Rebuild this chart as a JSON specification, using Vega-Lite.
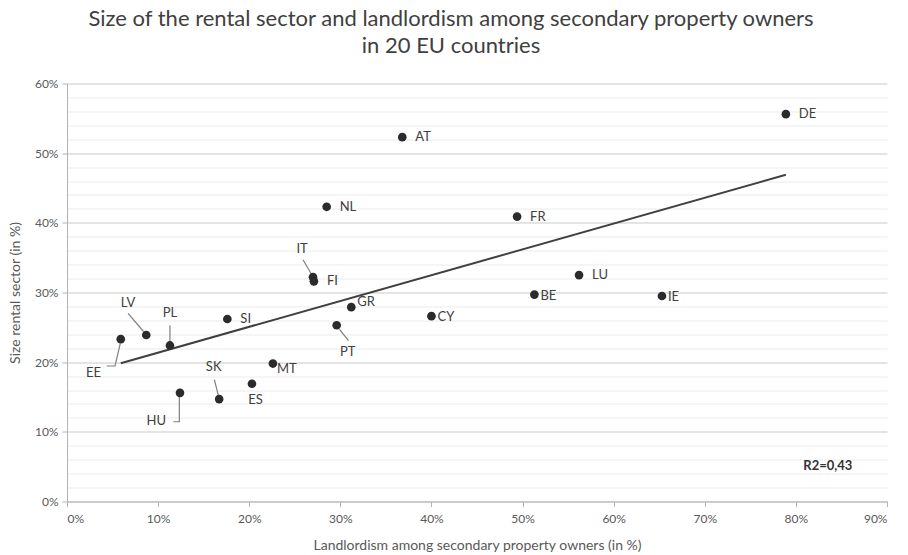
{
  "$schema": "https://vega.github.io/schema/vega-lite/v6.json",
  "autosize": "none",
  "width": 820,
  "height": 418,
  "padding": {"left": 67, "top": 83.5, "right": 21, "bottom": 53.5},
  "background": "white",
  "config": {"font": "Lato", "view": {"stroke": null}},
  "title": {
    "text": ["Size of the rental sector and landlordism among secondary property owners", "in 20 EU countries"],
    "fontSize": 22,
    "fontWeight": "normal",
    "color": "#404040",
    "anchor": "middle",
    "dx": -26,
    "offset": 20,
    "lineHeight": 27
  },
  "datasets": {
    "countries": [
      {"country": "DE", "landlordism": 0.789, "rental": 0.556, "side": "far"},
      {"country": "AT", "landlordism": 0.368, "rental": 0.523, "side": "far"},
      {"country": "NL", "landlordism": 0.285, "rental": 0.423, "side": "far"},
      {"country": "FR", "landlordism": 0.494, "rental": 0.409, "side": "far"},
      {"country": "LU", "landlordism": 0.562, "rental": 0.325, "side": "far"},
      {"country": "IT", "landlordism": 0.270, "rental": 0.322, "side": "callout"},
      {"country": "FI", "landlordism": 0.271, "rental": 0.316, "side": "far"},
      {"country": "BE", "landlordism": 0.513, "rental": 0.297, "side": "near"},
      {"country": "IE", "landlordism": 0.653, "rental": 0.295, "side": "near"},
      {"country": "GR", "landlordism": 0.312, "rental": 0.279, "side": "up"},
      {"country": "CY", "landlordism": 0.400, "rental": 0.266, "side": "near"},
      {"country": "SI", "landlordism": 0.176, "rental": 0.262, "side": "far"},
      {"country": "PT", "landlordism": 0.296, "rental": 0.253, "side": "callout"},
      {"country": "LV", "landlordism": 0.087, "rental": 0.239, "side": "callout"},
      {"country": "EE", "landlordism": 0.059, "rental": 0.233, "side": "callout"},
      {"country": "PL", "landlordism": 0.113, "rental": 0.224, "side": "callout"},
      {"country": "MT", "landlordism": 0.226, "rental": 0.198, "side": "down"},
      {"country": "ES", "landlordism": 0.203, "rental": 0.169, "side": "callout"},
      {"country": "HU", "landlordism": 0.124, "rental": 0.156, "side": "callout"},
      {"country": "SK", "landlordism": 0.167, "rental": 0.147, "side": "callout"}
    ],
    "calloutLabels": [
      {"country": "IT", "lx": 0.258, "ly": 0.363},
      {"country": "LV", "lx": 0.067, "ly": 0.285},
      {"country": "PL", "lx": 0.113, "ly": 0.271},
      {"country": "EE", "lx": 0.029, "ly": 0.184},
      {"country": "HU", "lx": 0.098, "ly": 0.115},
      {"country": "SK", "lx": 0.161, "ly": 0.193},
      {"country": "ES", "lx": 0.207, "ly": 0.145},
      {"country": "PT", "lx": 0.308, "ly": 0.214}
    ],
    "leaders": [
      {"country": "IT", "step": 1, "lx": 0.259, "ly": 0.347},
      {"country": "IT", "step": 2, "lx": 0.268, "ly": 0.327},
      {"country": "LV", "step": 1, "lx": 0.067, "ly": 0.270},
      {"country": "LV", "step": 2, "lx": 0.084, "ly": 0.244},
      {"country": "PL", "step": 1, "lx": 0.113, "ly": 0.253},
      {"country": "PL", "step": 2, "lx": 0.113, "ly": 0.229},
      {"country": "EE", "step": 1, "lx": 0.0585, "ly": 0.227},
      {"country": "EE", "step": 2, "lx": 0.0527, "ly": 0.1945},
      {"country": "EE", "step": 3, "lx": 0.0436, "ly": 0.1945},
      {"country": "HU", "step": 1, "lx": 0.1233, "ly": 0.150},
      {"country": "HU", "step": 2, "lx": 0.1233, "ly": 0.1145},
      {"country": "HU", "step": 3, "lx": 0.1167, "ly": 0.1145},
      {"country": "SK", "step": 1, "lx": 0.1617, "ly": 0.175},
      {"country": "SK", "step": 2, "lx": 0.166, "ly": 0.153},
      {"country": "PT", "step": 1, "lx": 0.299, "ly": 0.247},
      {"country": "PT", "step": 2, "lx": 0.309, "ly": 0.231}
    ]
  },
  "encoding": {
    "x": {
      "type": "quantitative",
      "scale": {"domain": [0, 0.9], "nice": false, "zero": false},
      "axis": {
        "title": "Landlordism among secondary property owners (in %)",
        "values": [0, 0.1, 0.2, 0.3, 0.4, 0.5, 0.6, 0.7, 0.8, 0.9],
        "format": ".0%",
        "grid": false,
        "domainColor": "#b3b3b3",
        "tickColor": "#b3b3b3",
        "tickSize": 5,
        "labelFontSize": 12,
        "labelColor": "#595959",
        "labelPadding": 7,
        "titleFontSize": 14,
        "titleFontWeight": "normal",
        "titleColor": "#595959",
        "titlePadding": 14
      }
    },
    "y": {
      "type": "quantitative",
      "scale": {"domain": [0, 0.6], "nice": false, "zero": false},
      "axis": {
        "title": "Size rental sector (in %)",
        "values": [0, 0.02, 0.04, 0.06, 0.08, 0.1, 0.12, 0.14, 0.16, 0.18, 0.2, 0.22, 0.24, 0.26, 0.28, 0.3, 0.32, 0.34, 0.36, 0.38, 0.4, 0.42, 0.44, 0.46, 0.48, 0.5, 0.52, 0.54, 0.56, 0.58, 0.6],
        "labelExpr": "abs(round(datum.value*10) - datum.value*10) < 0.001 ? format(datum.value, '.0%') : ''",
        "grid": true,
        "gridColor": {"condition": {"test": "abs(round(datum.value*10) - datum.value*10) < 0.001", "value": "#c9c9c9"}, "value": "#ebebeb"},
        "gridWidth": 1,
        "tickOpacity": {"condition": {"test": "abs(round(datum.value*10) - datum.value*10) < 0.001", "value": 1}, "value": 0},
        "domainColor": "#b3b3b3",
        "tickColor": "#b3b3b3",
        "tickSize": 5,
        "labelFontSize": 12,
        "labelColor": "#595959",
        "labelPadding": 4,
        "titleFontSize": 14,
        "titleFontWeight": "normal",
        "titleColor": "#595959",
        "titlePadding": 12
      }
    }
  },
  "layer": [
    {
      "data": {"name": "countries"},
      "transform": [{"regression": "rental", "on": "landlordism", "method": "linear"}],
      "mark": {"type": "line", "color": "#404040", "strokeWidth": 2},
      "encoding": {"x": {"field": "landlordism"}, "y": {"field": "rental"}}
    },
    {
      "data": {"name": "leaders"},
      "mark": {"type": "line", "color": "#7f7f7f", "strokeWidth": 1.2},
      "encoding": {
        "x": {"field": "lx"},
        "y": {"field": "ly"},
        "detail": {"field": "country"},
        "order": {"field": "step"}
      }
    },
    {
      "data": {"name": "countries"},
      "mark": {"type": "point", "filled": true, "size": 75, "color": "#2b2b2b", "opacity": 1},
      "encoding": {"x": {"field": "landlordism"}, "y": {"field": "rental"}}
    },
    {
      "data": {"name": "countries"},
      "transform": [{"filter": "datum.side == 'far'"}],
      "mark": {"type": "text", "align": "left", "baseline": "middle", "dx": 13, "fontSize": 13, "color": "#404040"},
      "encoding": {"x": {"field": "landlordism"}, "y": {"field": "rental"}, "text": {"field": "country"}}
    },
    {
      "data": {"name": "countries"},
      "transform": [{"filter": "datum.side == 'near'"}],
      "mark": {"type": "text", "align": "left", "baseline": "middle", "dx": 6, "dy": 1, "fontSize": 13, "color": "#404040"},
      "encoding": {"x": {"field": "landlordism"}, "y": {"field": "rental"}, "text": {"field": "country"}}
    },
    {
      "data": {"name": "countries"},
      "transform": [{"filter": "datum.side == 'up'"}],
      "mark": {"type": "text", "align": "left", "baseline": "middle", "dx": 6, "dy": -5, "fontSize": 13, "color": "#404040"},
      "encoding": {"x": {"field": "landlordism"}, "y": {"field": "rental"}, "text": {"field": "country"}}
    },
    {
      "data": {"name": "countries"},
      "transform": [{"filter": "datum.side == 'down'"}],
      "mark": {"type": "text", "align": "left", "baseline": "middle", "dx": 4, "dy": 5, "fontSize": 13, "color": "#404040"},
      "encoding": {"x": {"field": "landlordism"}, "y": {"field": "rental"}, "text": {"field": "country"}}
    },
    {
      "data": {"name": "calloutLabels"},
      "mark": {"type": "text", "align": "center", "baseline": "middle", "fontSize": 13, "color": "#404040"},
      "encoding": {"x": {"field": "lx"}, "y": {"field": "ly"}, "text": {"field": "country"}}
    },
    {
      "data": {"values": [{"label": "R2=0,43"}]},
      "mark": {"type": "text", "align": "right", "baseline": "middle", "fontSize": 13, "fontWeight": "bold", "color": "#333333"},
      "encoding": {"x": {"datum": 0.862}, "y": {"datum": 0.051}, "text": {"field": "label"}}
    }
  ]
}
